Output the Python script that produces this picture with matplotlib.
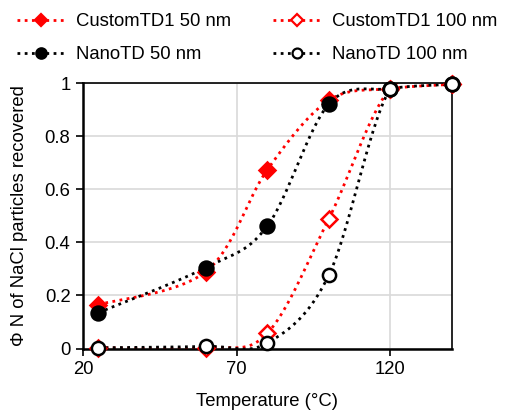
import numpy as np
import matplotlib.pyplot as plt

plt.rcParams["font.family"] = ["Liberation Sans", "DejaVu Sans"]

temps = [25, 60, 80, 100, 120, 140]
custom_50 = [0.165, 0.29, 0.674, 0.935, 0.979, 0.995]
nano_50 = [0.135, 0.305, 0.462, 0.921, 0.979, 0.995]
custom_100 = [0.003, 0.003, 0.058, 0.489, 0.979, 0.995]
nano_100 = [0.003, 0.008, 0.021, 0.277, 0.979, 0.995]


def smooth(x, y, n=30):
    """Excel-style smoothed line (Bezier through the points)"""
    p = np.column_stack([x, y]).astype(float)
    p = np.vstack([p[0], p, p[-1]])
    t = np.linspace(0, 1, n)[:, None]
    out = []
    for i in range(1, len(p) - 2):
        p0, p1 = p[i], p[i + 1]
        c1 = p0 + (p[i + 1] - p[i - 1]) / 6
        c2 = p1 - (p[i + 2] - p[i]) / 6
        seg = ((1 - t) ** 3) * p0 + 3 * ((1 - t) ** 2) * t * c1 + 3 * (1 - t) * t**2 * c2 + t**3 * p1
        out.append(seg)
    out = np.vstack(out)
    return out[:, 0], out[:, 1]


fs = 13.3
fig = plt.figure(figsize=(5.06, 4.11), dpi=100)
ax = fig.add_axes([0.164, 0.152, 0.729, 0.646])

series = [
    (custom_50, "CustomTD1 50 nm", "red", "D", "red", 8),
    (custom_100, "CustomTD1 100 nm", "red", "D", "white", 8),
    (nano_50, "NanoTD 50 nm", "black", "o", "black", 10),
    (nano_100, "NanoTD 100 nm", "black", "o", "white", 9.5),
]
ls = (0, (1, 1.6))
handles = {}
for y, lab, col, mk, fc, ms in series:
    sx, sy = smooth(temps, y)
    ax.plot(sx, sy, color=col, lw=2, linestyle=ls, zorder=2)
    ax.plot(temps, y, linestyle="none", marker=mk, ms=ms, mfc=fc, mec=col,
            mew=1.8, zorder=3, clip_on=False)
    handles[lab] = ax.plot([], [], color=col, lw=2, linestyle=ls, marker=mk,
                           ms=ms * 0.75, mfc=fc, mec=col, mew=1.6)[0]

ax.set_xlim(20, 140)
ax.set_ylim(0, 1)
ax.set_xticks([20, 70, 120])
ax.set_yticks([0, 0.2, 0.4, 0.6, 0.8, 1])
ax.set_yticklabels(["0", "0.2", "0.4", "0.6", "0.8", "1"])
ax.grid(True, color="#d9d9d9", lw=1.2)
ax.set_axisbelow(True)
for s in ["left", "bottom"]:
    ax.spines[s].set_linewidth(1.8)
for s in ["top", "right"]:
    ax.spines[s].set_linewidth(1.2)
ax.tick_params(labelsize=fs, direction="out", length=5, width=1.2,
               left=True, bottom=True, pad=4)
ax.set_xlabel("Temperature (°C)", fontsize=fs, labelpad=11)
ax.set_ylabel("Φ N of NaCl particles recovered", fontsize=fs, labelpad=12)

# ncol=2 fills column by column
order = ["CustomTD1 50 nm", "NanoTD 50 nm", "CustomTD1 100 nm", "NanoTD 100 nm"]
fig.legend([handles[k] for k in order], order, ncol=2, frameon=False,
           loc="upper left", bbox_to_anchor=(0.0, 1.008), fontsize=fs,
           numpoints=1, handlelength=2.6, handletextpad=0.6,
           columnspacing=2.3, labelspacing=0.85)

fig.savefig("out.png", dpi=100)
